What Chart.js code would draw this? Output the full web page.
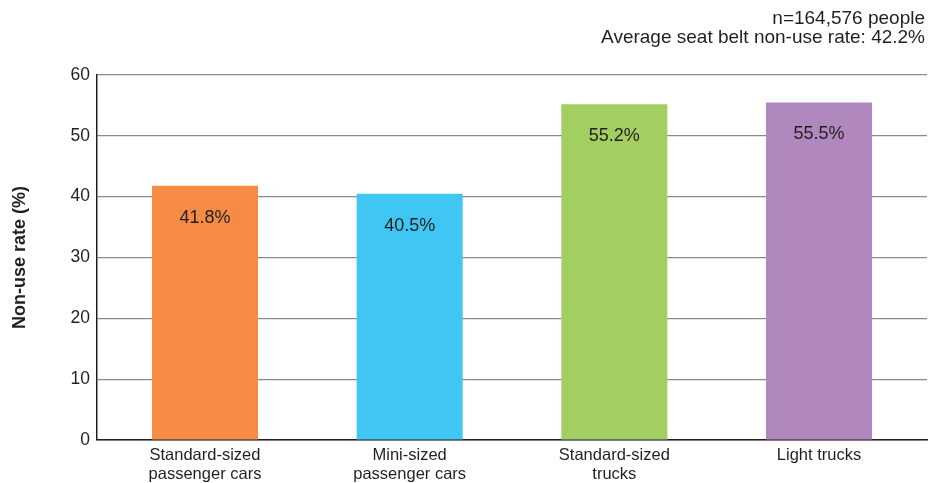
<!DOCTYPE html>
<html lang="en">
<head>
    <meta charset="UTF-8">
    <title>Seat belt non-use rate by vehicle type</title>
    <style>
        body {
            margin: 0;
            background: white;
        }
        #wrap {
            position: relative;
            width: 929px;
            height: 483px;
        }
    </style>
</head>
<body>
    <div id="wrap"><canvas id="chart"></canvas></div>

    <script src="https://cdn.jsdelivr.net/npm/chart.js"></script>
    <script>
        // data
        const categories = [
            ['Standard-sized', 'passenger cars'],
            ['Mini-sized', 'passenger cars'],
            ['Standard-sized', 'trucks'],
            ['Light trucks']
        ];
        const nonUseRates = [41.8, 40.5, 55.2, 55.5];
        const barColors = ['#f58b45', '#40c6f2', '#a3cf62', '#b088bd'];
        const yTicks = [0, 10, 20, 30, 40, 50, 60];
        const noteLines = ['n=164,576 people', 'Average seat belt non-use rate: 42.2%'];

        const textColor = '#231f20';
        const fontFamily = '"Liberation Sans", Arial, sans-serif';

        // value labels inside the bars + the note at top right
        const labelPlugin = {
            id: 'labels',
            afterDatasetsDraw(chart) {
                const ctx = chart.ctx;
                const meta = chart.getDatasetMeta(0);
                ctx.save();
                ctx.font = '18px ' + fontFamily;
                ctx.fillStyle = textColor;
                ctx.textAlign = 'center';
                ctx.textBaseline = 'middle';
                meta.data.forEach((bar, i) => {
                    ctx.fillText(nonUseRates[i].toFixed(1) + '%', bar.x, bar.y + 32);
                });
                ctx.font = '19px ' + fontFamily;
                ctx.textAlign = 'right';
                ctx.fillText(noteLines[0], 925, 19);
                ctx.fillText(noteLines[1], 925, 38);
                ctx.restore();
            }
        };

        new Chart(document.getElementById('chart'), {
            type: 'bar',
            data: {
                datasets: [{
                    data: nonUseRates.map((v, i) => ({ x: i, y: v })),
                    backgroundColor: barColors,
                    barPercentage: 0.518,
                    categoryPercentage: 1
                }]
            },
            options: {
                responsive: true,
                maintainAspectRatio: false,
                animation: false,
                layout: {
                    padding: { top: 75, right: 2, left: 9, bottom: 0 }
                },
                plugins: {
                    legend: { display: false },
                    tooltip: { enabled: false }
                },
                scales: {
                    x: {
                        type: 'linear',
                        offset: false,
                        min: -0.5276,
                        max: 3.5276,
                        afterBuildTicks(scale) {
                            scale.ticks = categories.map((c, i) => ({ value: i }));
                        },
                        grid: { display: false, drawTicks: false, offset: false },
                        border: { color: textColor, width: 1.5 },
                        ticks: {
                            color: textColor,
                            font: { family: fontFamily, size: 16.5, lineHeight: 1.15 },
                            padding: 6,
                            maxRotation: 0,
                            autoSkip: false,
                            callback: (v) => categories[v]
                        },
                        afterFit(scale) { scale.height = 43; }
                    },
                    y: {
                        min: 0,
                        max: 60,
                        afterBuildTicks(scale) {
                            scale.ticks = yTicks.map(v => ({ value: v }));
                        },
                        grid: { color: '#8a8a8a', lineWidth: 1.2, drawTicks: false },
                        border: { color: textColor, width: 1.5 },
                        ticks: {
                            color: textColor,
                            font: { family: fontFamily, size: 17.5 },
                            padding: 7
                        },
                        title: {
                            display: true,
                            text: 'Non-use rate (%)',
                            color: textColor,
                            font: { family: fontFamily, size: 18, weight: 'bold' },
                            padding: 0
                        },
                        afterFit(scale) { scale.width = 88; }
                    }
                }
            },
            plugins: [labelPlugin]
        });
    </script>
</body>
</html>
